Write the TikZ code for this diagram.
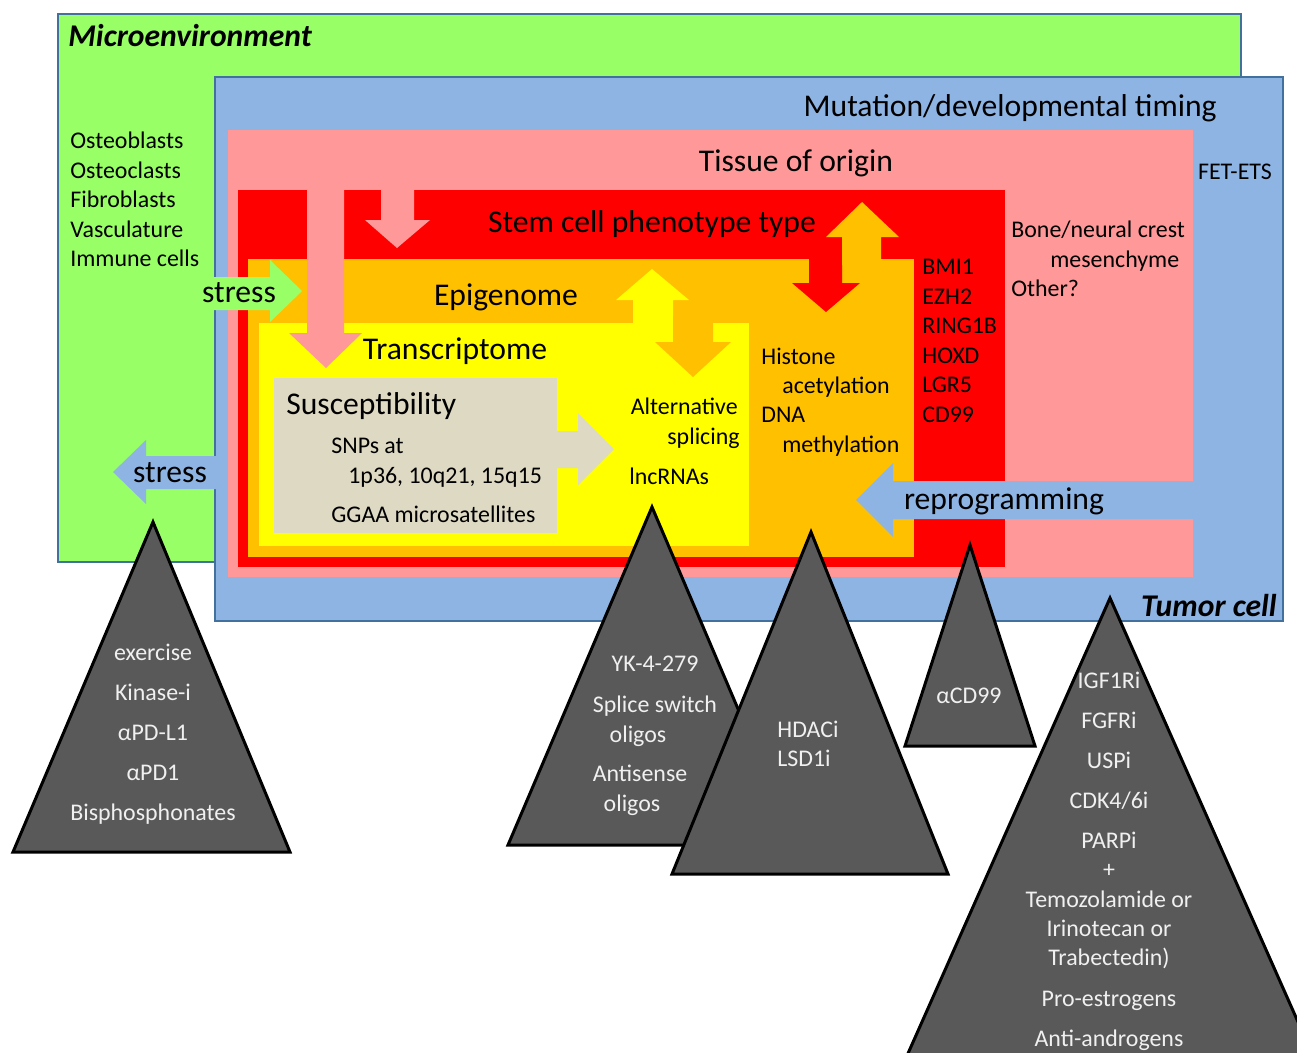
\documentclass[tikz,border=0pt]{standalone}
\usepackage{fontspec}
\setmainfont{Carlito}
\usetikzlibrary{positioning}

\definecolor{envgreen}{HTML}{99FF66}
\definecolor{cellblue}{HTML}{8EB4E3}
\definecolor{tissuepink}{HTML}{FF9999}
\definecolor{stemred}{HTML}{FF0000}
\definecolor{epiorange}{HTML}{FFC000}
\definecolor{transyellow}{HTML}{FFFF00}
\definecolor{suscgray}{HTML}{DDD9C3}
\definecolor{edgeblue}{HTML}{41719C}
\definecolor{drugfill}{HTML}{595959}

\tikzset{
  bigtext/.style={font=\fontsize{18}{21}\selectfont, inner sep=0pt, text height=13.5pt, text depth=1.8pt},
  smalltext/.style={font=\fontsize{13.6}{16}\selectfont, inner sep=0pt, text height=10.2pt, text depth=1.4pt},
  boldit/.style={bigtext, font=\fontsize{18}{21}\selectfont\bfseries\itshape},
  druglabel/.style={smalltext, text=white!94!black},
  tri/.style={fill=drugfill, draw=black, line width=1.7pt, line join=miter}
}

\begin{document}
\begin{tikzpicture}[x=0.02cm, y=-0.02cm, node distance=0.8cm]
        \useasboundingbox (0,0) rectangle (1297,1052);
        \clip (0,0) rectangle (1297,1052);

        \draw[fill=envgreen, draw=edgeblue, line width=1.2pt] (58,14) rectangle (1241,562);
        \draw[fill=cellblue, draw=edgeblue, line width=1.2pt] (215,77) rectangle (1283,621);
        \fill[tissuepink] (228,130) rectangle (1193,577);
        \fill[stemred] (238,190) rectangle (1005,567);
        \fill[epiorange] (248,259) rectangle (914,557);
        \fill[transyellow] (259,323) rectangle (749,546);
        \fill[suscgray] (274,378) rectangle (557,533);

        \fill[tissuepink] (307,185) -- (344,185) -- (344,333) -- (362,333) -- (326,368) -- (289,333) -- (307,333) -- cycle;
        \fill[tissuepink] (381,185) -- (414,185) -- (414,220) -- (430,220) -- (397,248) -- (365,220) -- (381,220) -- cycle;
        \fill[stemred] (809,252) -- (842,252) -- (842,283) -- (860,283) -- (826,312) -- (792,283) -- (809,283) -- cycle;
        \fill[epiorange] (842,265) -- (881,265) -- (881,237) -- (899,237) -- (862,202) -- (826,237) -- (842,237) -- cycle;
        \fill[transyellow] (633,330) -- (673,330) -- (673,300) -- (689,300) -- (652,269) -- (616,300) -- (633,300) -- cycle;
        \fill[epiorange] (673,316) -- (713,316) -- (713,342) -- (731,342) -- (693,377) -- (655,342) -- (673,342) -- cycle;
        \fill[suscgray] (550,431) -- (578,431) -- (578,413) -- (614,449) -- (578,485) -- (578,468) -- (550,468) -- cycle;
        \fill[envgreen] (205,277) -- (270,277) -- (270,260) -- (302,291) -- (270,322) -- (270,310) -- (205,310) -- cycle;
        \fill[cellblue] (222,456) -- (146,456) -- (146,440) -- (113,472) -- (146,504) -- (146,489) -- (222,489) -- cycle;
        \fill[cellblue] (1200,481) -- (893,481) -- (893,463) -- (856,500) -- (893,537) -- (893,519) -- (1200,519) -- cycle;

        \node[boldit, anchor=west] (micro) at (68,36) {Microenvironment};
        \node[bigtext, anchor=east] (timing) at (1217,106) {Mutation/developmental timing};
        \node[bigtext] (tissue) at (796,161) {Tissue of origin};
        \node[smalltext] (fetets) at (1235,172) {FET-ETS};
        \node[bigtext] (stem) at (652,222) {Stem cell phenotype type};
        \node[bigtext] (epi) at (506,295) {Epigenome};
        \node[bigtext] (trans) at (455,349) {Transcriptome};
        \node[bigtext, anchor=west] (susc) at (286,404) {Susceptibility};
        \node[bigtext] (stressin) at (239,292) {stress};
        \node[bigtext] (stressout) at (170,472) {stress};
        \node[bigtext] (reprog) at (1004,499) {reprogramming};
        \node[boldit, anchor=east] (tumor) at (1277,606) {Tumor cell};

        \node[smalltext, anchor=west] (osteob) at (70,141) {Osteoblasts};
        \node[smalltext, below=0.59cm of osteob.west, anchor=west] (osteoc) {Osteoclasts};
        \node[smalltext, below=0.59cm of osteoc.west, anchor=west] (fibro) {Fibroblasts};
        \node[smalltext, below=0.59cm of fibro.west, anchor=west] (vasc) {Vasculature};
        \node[smalltext, below=0.59cm of vasc.west, anchor=west] (immune) {Immune cells};

        \node[smalltext, anchor=west] (bone) at (1011,230) {Bone/neural crest};
        \node[smalltext, anchor=west] (mesen) at (1050,260) {mesenchyme};
        \node[smalltext, anchor=west] (other) at (1011,289) {Other?};

        \node[smalltext, anchor=west] (bmi) at (922,267) {BMI1};
        \node[smalltext, below=0.59cm of bmi.west, anchor=west] (ezh) {EZH2};
        \node[smalltext, below=0.59cm of ezh.west, anchor=west] (ring) {RING1B};
        \node[smalltext, below=0.59cm of ring.west, anchor=west] (hoxd) {HOXD};
        \node[smalltext, below=0.59cm of hoxd.west, anchor=west] (lgr) {LGR5};
        \node[smalltext, below=0.59cm of lgr.west, anchor=west] (cd) {CD99};

        \node[smalltext, anchor=west] (histone) at (761,357) {Histone};
        \node[smalltext, anchor=west] (acetyl) at (782,386) {acetylation};
        \node[smalltext, anchor=west] (dna) at (761,415) {DNA};
        \node[smalltext, anchor=west] (methyl) at (782,445) {methylation};

        \node[smalltext, anchor=east] (altern) at (738,407) {Alternative};
        \node[smalltext, anchor=east] (splicing) at (740,437) {splicing};
        \node[smalltext, anchor=west] (lnc) at (629,477) {lncRNAs};

        \node[smalltext, anchor=west] (snps) at (331,446) {SNPs at};
        \node[smalltext, anchor=west] (loci) at (348,476) {1p36, 10q21, 15q15};
        \node[smalltext, anchor=west] (ggaa) at (331,515) {GGAA microsatellites};

        \draw[tri] (153,522) -- (290,852) -- (13,852) -- cycle;
        \node[druglabel] (exercise) at (153,653) {exercise};
        \node[druglabel] (kinase) [below of=exercise] {Kinase-i};
        \node[druglabel] (pdl) [below of=kinase] {αPD-L1};
        \node[druglabel] (pd) [below of=pdl] {αPD1};
        \node[druglabel] (bisph) [below of=pd] {Bisphosphonates};

        \draw[tri] (652,507) -- (796,845) -- (508,845) -- cycle;
        \node[druglabel] (yk) at (655,664) {YK-4-279};
        \node[druglabel] (splice) at (655,705) {Splice switch};
        \node[druglabel] (oligoa) at (638,735) {oligos};
        \node[druglabel] (antis) at (640,774) {Antisense};
        \node[druglabel] (oligob) at (632,804) {oligos};

        \draw[tri] (811,532) -- (948,874) -- (672,874) -- cycle;
        \node[druglabel, anchor=west] (hdac) at (777,730) {HDACi};
        \node[druglabel, anchor=west] (lsd) at (777,759) {LSD1i};

        \draw[tri] (970,545) -- (1035,746) -- (905,746) -- cycle;
        \node[druglabel] (acd) at (969,696) {αCD99};

        \draw[tri] (1110,598) -- (1326,1085) -- (894,1085) -- cycle;
        \node[druglabel] (igf) at (1109,681) {IGF1Ri};
        \node[druglabel] (fgfr) [below of=igf] {FGFRi};
        \node[druglabel] (usp) [below of=fgfr] {USPi};
        \node[druglabel] (cdk) [below of=usp] {CDK4/6i};
        \node[druglabel] (parp) [below of=cdk] {PARPi};
        \node[druglabel] (plus) at (1109,870) {+};
        \node[druglabel] (temo) at (1109,900) {Temozolamide or};
        \node[druglabel] (irino) at (1109,929) {Irinotecan or};
        \node[druglabel] (trabe) at (1109,958) {Trabectedin)};
        \node[druglabel] (proes) at (1109,999) {Pro-estrogens};
        \node[druglabel] (antia) [below of=proes] {Anti-androgens};
    \end{tikzpicture}
\end{document}
